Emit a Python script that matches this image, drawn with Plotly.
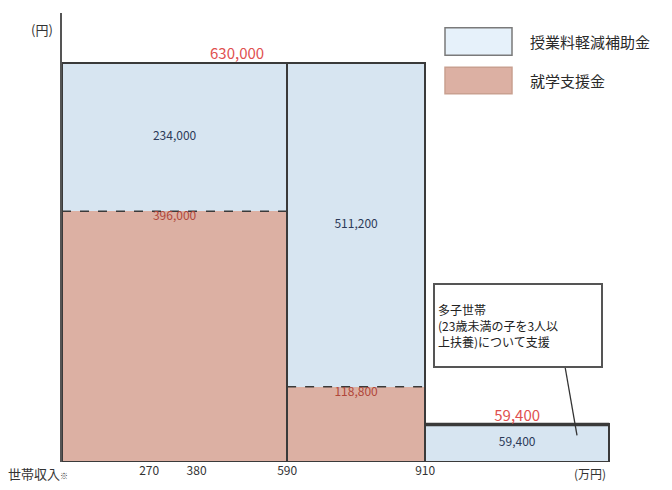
import plotly.graph_objects as go

# ---- data ----
income_left = [68, 590, 910]          # 万円 (column start)
income_right = [590, 910, 1337]       # 万円 (column end)
shugaku_shienkin = [396000, 118800, 0]        # 就学支援金
jugyoryo_hojokin = [234000, 511200, 59400]    # 授業料軽減補助金
x_tick_vals = [270, 380, 590, 910]
x_tick_text = ["270", "380", "590", "910"]
legend_names = ["授業料軽減補助金", "就学支援金"]
totals = [a + b for a, b in zip(shugaku_shienkin, jugyoryo_hojokin)]

BLUE = "#d7e5f1"
PINK = "#dcb0a3"
EDGE = "#3a3a3a"
RED = "#e0504f"
NAVY = "#2c3a58"
BROWN = "#b0473a"
FONT = "Noto Sans CJK JP"

centers = [(l + r) / 2 for l, r in zip(income_left, income_right)]
widths = [r - l for l, r in zip(income_left, income_right)]

# plot area geometry (pixels)
W, H = 672, 490
ML, MR, MT, MB = 62, 32, 13, 21
PW, PH = W - ML - MR, H - MT - MB
XR = [68, 68 + PW / 0.43125]
YR = [0, totals[0] * PH / 405]

def px(xp):
    return (xp - ML) / PW

def py(yp):
    return (H - MB - yp) / PH

fig = go.Figure()

# pink base segments
fig.add_trace(go.Bar(
    x=centers, y=shugaku_shienkin, width=widths, base=[0, 0, 0],
    marker=dict(color=PINK, line=dict(width=0)), showlegend=False,
    hoverinfo="skip"))
# blue segments stacked on pink
fig.add_trace(go.Bar(
    x=centers, y=jugyoryo_hojokin, width=widths, base=shugaku_shienkin,
    marker=dict(color=BLUE, line=dict(width=0)), showlegend=False,
    hoverinfo="skip"))
# column outlines
fig.add_trace(go.Bar(
    x=centers, y=totals, width=widths, base=[0, 0, 0],
    marker=dict(color="rgba(0,0,0,0)", line=dict(color=EDGE, width=2)),
    showlegend=False, hoverinfo="skip"))
# heavier top edge on the last column
fig.add_trace(go.Scatter(
    x=[income_left[2], income_right[2]], y=[totals[2], totals[2]],
    mode="lines", line=dict(color=EDGE, width=3.5),
    showlegend=False, hoverinfo="skip"))

# dashed boundaries between segments
for i in range(2):
    fig.add_trace(go.Scatter(
        x=[income_left[i], income_right[i]],
        y=[shugaku_shienkin[i], shugaku_shienkin[i]],
        mode="lines", line=dict(color=EDGE, width=1.5, dash="dash"),
        showlegend=False, hoverinfo="skip"))

# value labels
fig.add_trace(go.Scatter(
    x=centers,
    y=[s + j / 2 for s, j in zip(shugaku_shienkin, jugyoryo_hojokin)],
    mode="text", text=[f"{v:,}" for v in jugyoryo_hojokin],
    textfont=dict(family=FONT, size=12, color=NAVY),
    showlegend=False, hoverinfo="skip"))
fig.add_trace(go.Scatter(
    x=centers[:2], y=shugaku_shienkin[:2], mode="text",
    text=[f"{v:,}" for v in shugaku_shienkin[:2]], textposition="bottom center",
    textfont=dict(family=FONT, size=12, color=BROWN),
    showlegend=False, hoverinfo="skip"))
fig.add_trace(go.Scatter(
    x=[(income_left[0] + income_right[1]) / 2 - 15, centers[2]],
    y=[totals[0], totals[2]], mode="text",
    text=[f"{totals[0]:,}", f"{totals[2]:,}"], textposition="top center",
    textfont=dict(family=FONT, size=15, color=RED),
    showlegend=False, hoverinfo="skip"))

shapes = []
# legend boxes
shapes.append(dict(type="rect", xref="paper", yref="paper",
                   x0=px(445), x1=px(512), y0=py(56), y1=py(28),
                   fillcolor="#e6f1fa", line=dict(color="#7a7a7a", width=1.5)))
shapes.append(dict(type="rect", xref="paper", yref="paper",
                   x0=px(445), x1=px(512), y0=py(95), y1=py(68),
                   fillcolor=PINK, line=dict(color="#c9a090", width=1.5)))
# leader line from note box to last column
shapes.append(dict(type="line", xref="paper", yref="paper",
                   x0=px(565), y0=py(372), x1=px(577), y1=py(442),
                   line=dict(color="#333333", width=1.3)))

annotations = [
    dict(text=legend_names[0], xref="paper", yref="paper", x=px(528), y=py(42),
         xanchor="left", yanchor="middle", showarrow=False,
         font=dict(family=FONT, size=15, color="#2a2a2a")),
    dict(text=legend_names[1], xref="paper", yref="paper", x=px(528), y=py(82),
         xanchor="left", yanchor="middle", showarrow=False,
         font=dict(family=FONT, size=15, color="#2a2a2a")),
    dict(text="(円)", xref="paper", yref="paper", x=px(42), y=py(30),
         xanchor="center", yanchor="middle", showarrow=False,
         font=dict(family=FONT, size=13, color="#333333")),
    dict(text="世帯収入<span style='font-size:8px'>※</span>", xref="paper", yref="paper",
         x=px(6), y=py(481), xanchor="left", yanchor="middle", showarrow=False,
         font=dict(family=FONT, size=13, color="#333333")),
    dict(text="(万円)", xref="paper", yref="paper", x=px(590), y=py(481),
         xanchor="center", yanchor="middle", showarrow=False,
         font=dict(family=FONT, size=12, color="#333333")),
    dict(text="多子世帯<br>(23歳未満の子を3人以<br>上扶養)について支援",
         xref="paper", yref="paper", x=px(433), y=py(287),
         xanchor="left", yanchor="top", align="left", showarrow=False,
         width=160, height=75, valign="middle",
         bgcolor="white", bordercolor="#555555", borderwidth=2, borderpad=3,
         font=dict(family=FONT, size=12, color="#222222")),
]

fig.update_layout(
    width=W, height=H,
    margin=dict(l=ML, r=MR, t=MT, b=MB),
    paper_bgcolor="white", plot_bgcolor="white",
    barmode="overlay", bargap=0,
    shapes=shapes, annotations=annotations,
    font=dict(family=FONT),
    xaxis=dict(range=XR, showgrid=False, zeroline=False, showline=False,
               tickvals=x_tick_vals, ticktext=x_tick_text, ticks="",
               tickfont=dict(family=FONT, size=12, color="#333333"),
               ticklabelstandoff=0),
    yaxis=dict(range=YR, showgrid=False, zeroline=False, showline=True,
               linecolor="#555555", linewidth=2, showticklabels=False,
               ticks=""),
)

fig.write_html("out.html", config={"displayModeBar": False},
               post_script="document.body.style.margin='0';document.body.style.overflow='hidden';")
